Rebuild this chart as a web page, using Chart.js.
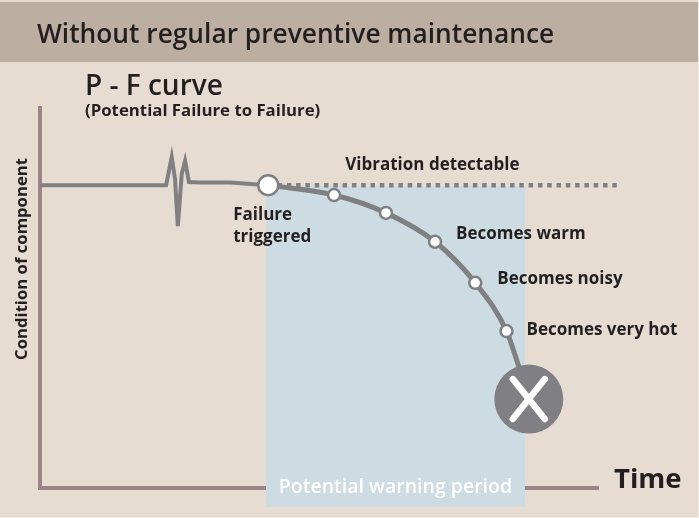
<!DOCTYPE html>
<html><head><meta charset="utf-8">
<script src="https://cdn.jsdelivr.net/npm/chart.js@4.4.1/dist/chart.umd.min.js"></script>
<style>html,body{margin:0;padding:0;background:#fff;overflow:hidden}canvas{display:block}</style>
</head><body>
<canvas id="c" width="699" height="518"></canvas>
<script>
// ---- data (time units 0..100, condition units 0..100) ----
const baselineX = [0, 22.6, 23.6, 24.2, 24.7, 25.4, 26.0, 26.7, 28.7, 34.1, 40.9];
const baselineY = [79.7, 79.7, 87.1, 81.3, 68.9, 82.6, 86.1, 80.5, 80.4, 80.4, 79.7];
const curveX = [40.9, 52.7, 62.0, 70.8, 78.0, 83.6, 85.7, 87.6];
const curveY = [79.7, 77.1, 72.4, 64.8, 54.0, 41.3, 32.4, 23.4];
const markerX = [52.7, 62.0, 70.8, 78.0, 83.6];
const markerY = [77.1, 72.4, 64.8, 54.0, 41.3];
const markerLabels = ['', '', 'Becomes warm', 'Becomes noisy', 'Becomes very hot'];
const triggerX = [40.9];
const triggerY = [79.7];
const triggerLabel = ['Failure', 'triggered'];
const failureX = [87.6];
const failureY = [23.4];
const vibrationX = [40.9, 103.4];
const vibrationY = [79.7, 79.7];
const vibrationLabel = 'Vibration detectable';
const warningPeriod = [40.5, 86.9];
const warningLabel = 'Potential warning period';
const titleText = 'Without regular preventive maintenance';
const subTitle = 'P - F curve';
const subTitle2 = '(Potential Failure to Failure)';
const xTitle = 'Time';
const yTitle = 'Condition of component';

// ---- styles ----
const FONT = "'Open Sans', sans-serif";
const C = { header:'#bcaea0', body:'#e6dcd1', axis:'#9b8386', line:'#808083',
  box:'#cddbe2', text:'#231f20', fail:'#808084' };
const markerLabelOffsets = [null, null, [21, -8], [22, -4], [20, -1]];

const pts = (xs, ys) => xs.map((x, i) => ({x, y: ys[i]}));

const pfPlugin = {
  id: 'pf',
  beforeDraw(chart) {
    const ctx = chart.ctx;
    ctx.save();
    ctx.fillStyle = '#f2ede8'; ctx.fillRect(0, 0, chart.width, chart.height);
    ctx.fillStyle = C.body; ctx.fillRect(0, 0, chart.width - 1, chart.height - 1);
    ctx.fillStyle = C.header; ctx.fillRect(0, 2, chart.width - 1, 60);
    ctx.fillStyle = C.text; ctx.textBaseline = 'middle'; ctx.textAlign = 'left';
    ctx.font = `600 26.3px ${FONT}`; ctx.fillText(titleText, 37, 36);
    ctx.font = `600 28px ${FONT}`; ctx.fillText(subTitle, 85, 87);
    ctx.font = `700 16.8px ${FONT}`; ctx.fillText(subTitle2, 85, 111);
    ctx.translate(22, 259); ctx.rotate(-Math.PI / 2);
    ctx.textAlign = 'center'; ctx.font = `700 16.7px ${FONT}`; ctx.fillText(yTitle, 0, 0);
    ctx.restore();
  },
  beforeDatasetsDraw(chart) {
    const {ctx, chartArea, scales: {x, y}} = chart;
    const l = x.getPixelForValue(warningPeriod[0]), r = x.getPixelForValue(warningPeriod[1]);
    const t = y.getPixelForValue(vibrationY[0]) + 1;
    ctx.save(); ctx.fillStyle = C.box; ctx.fillRect(l, t, r - l, chartArea.bottom + 19 - t); ctx.restore();
  },
  afterDatasetsDraw(chart) {
    const {ctx, scales: {x, y}} = chart;
    const cx = x.getPixelForValue(failureX[0]), cy = y.getPixelForValue(failureY[0]);
    ctx.save(); ctx.strokeStyle = '#fff'; ctx.lineWidth = 6.5; ctx.lineCap = 'round';
    ctx.beginPath();
    ctx.moveTo(cx - 16, cy - 20); ctx.lineTo(cx + 16, cy + 20);
    ctx.moveTo(cx + 16, cy - 20); ctx.lineTo(cx - 16, cy + 20);
    ctx.stroke(); ctx.restore();
  },
  afterDraw(chart) {
    const {ctx, chartArea, scales: {x, y}} = chart;
    ctx.save(); ctx.fillStyle = C.text; ctx.textBaseline = 'middle'; ctx.textAlign = 'left';
    ctx.font = `700 17px ${FONT}`;
    markerLabels.forEach((lab, i) => {
      if (!lab) return;
      const o = markerLabelOffsets[i];
      ctx.fillText(lab, x.getPixelForValue(markerX[i]) + o[0], y.getPixelForValue(markerY[i]) + o[1]);
    });
    const tx = x.getPixelForValue(triggerX[0]), ty = y.getPixelForValue(triggerY[0]);
    ctx.fillText(triggerLabel[0], tx - 35, ty + 30);
    ctx.fillText(triggerLabel[1], tx - 35, ty + 52);
    ctx.fillText(vibrationLabel, tx + 77, ty - 20);
    ctx.font = `700 27.5px ${FONT}`;
    ctx.fillText(xTitle, chartArea.right + 16, chartArea.bottom - 8);
    ctx.fillStyle = '#fff'; ctx.textAlign = 'center'; ctx.font = `600 19.5px ${FONT}`;
    ctx.fillText(warningLabel, (x.getPixelForValue(warningPeriod[0]) + x.getPixelForValue(warningPeriod[1])) / 2, chartArea.bottom - 1);
    ctx.restore();
  }
};

new Chart(document.getElementById('c'), {
  type: 'scatter',
  data: { datasets: [
    { data: pts(failureX, failureY), pointRadius: 34.5, pointBackgroundColor: C.fail, pointBorderWidth: 0, showLine: false, clip: false },
    { data: pts(markerX, markerY), pointRadius: 6, pointBackgroundColor: '#fff', pointBorderColor: C.line, pointBorderWidth: 2.5, showLine: false },
    { data: pts(triggerX, triggerY), pointRadius: 10, pointBackgroundColor: '#fff', pointBorderColor: C.line, pointBorderWidth: 2.5, showLine: false },
    { data: pts(curveX, curveY), showLine: true, borderColor: C.line, borderWidth: 5, pointRadius: 0, cubicInterpolationMode: 'monotone', clip: false },
    { data: pts(baselineX, baselineY), showLine: true, borderColor: C.line, borderWidth: 4, pointRadius: 0, tension: 0, borderJoinStyle: 'miter', clip: false },
    { data: pts(vibrationX, vibrationY), showLine: true, borderColor: C.line, borderWidth: 4.5, borderDash: [4.5, 4.8], pointRadius: 0, clip: false }
  ]},
  options: {
    responsive: false, devicePixelRatio: 1, animation: false, events: [],
    layout: { autoPadding: false, padding: { left: 40, top: 108, right: 101, bottom: 30 } },
    plugins: { legend: { display: false }, tooltip: { enabled: false } },
    scales: {
      x: { type: 'linear', min: 0, max: 100, grid: { display: false, drawTicks: false }, ticks: { display: false },
           border: { display: true, color: C.axis, width: 4 } },
      y: { type: 'linear', min: 0, max: 100, grid: { display: false, drawTicks: false }, ticks: { display: false },
           border: { display: true, color: C.axis, width: 4 } }
    }
  },
  plugins: [pfPlugin]
});
</script>
</body></html>
